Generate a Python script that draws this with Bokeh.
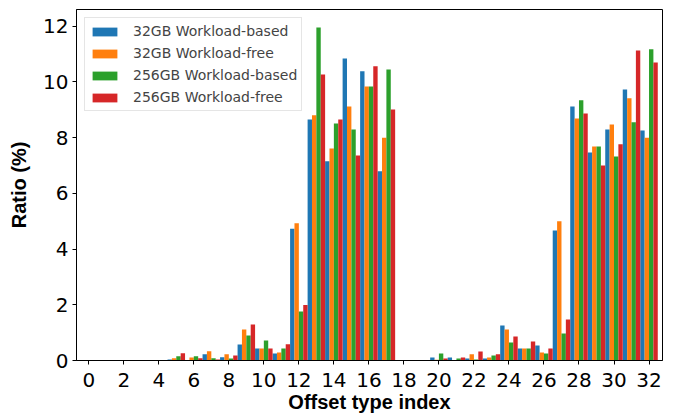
from bokeh.plotting import figure
from bokeh.models import Range1d, FixedTicker, Legend, LegendItem, ColumnDataSource
from bokeh.embed import file_html
from bokeh.resources import INLINE

indices = list(range(33))
tick_labels = [str(i) for i in range(0, 33, 2)]

series_names = ["32GB Workload-based", "32GB Workload-free",
                "256GB Workload-based", "256GB Workload-free"]

gb32_based = [0, 0, 0, 0, 0, 0.04, 0.0, 0.22, 0.12, 0.57, 0.43, 0.25, 4.73, 8.65, 7.15, 10.84,
              10.38, 6.79, 0, 0, 0.11, 0.11, 0.07, 0.07, 1.26, 0.43, 0.54, 4.67, 9.12, 7.47,
              8.29, 9.73, 8.26]
gb32_free = [0, 0, 0, 0, 0, 0.08, 0.11, 0.33, 0.22, 1.11, 0.43, 0.29, 4.93, 8.80, 7.61, 9.12,
             9.84, 8.00, 0, 0, 0.03, 0.01, 0.22, 0.11, 1.11, 0.43, 0.29, 5.00, 8.69, 7.68,
             8.47, 9.41, 8.00]
gb256_based = [0, 0, 0, 0, 0, 0.15, 0.15, 0.08, 0.07, 0.90, 0.72, 0.43, 1.76, 11.95, 8.51, 8.29,
               9.84, 10.45, 0, 0, 0.25, 0.07, 0.04, 0.18, 0.65, 0.43, 0.25, 0.97, 9.34, 7.68,
               7.32, 8.55, 11.17]
gb256_free = [0, 0, 0, 0, 0, 0.26, 0.08, 0.04, 0.18, 1.29, 0.43, 0.58, 1.99, 10.27, 8.65, 7.36,
              10.56, 9.01, 0, 0, 0.07, 0.11, 0.32, 0.22, 0.86, 0.68, 0.43, 1.47, 8.87, 7.00,
              7.76, 11.13, 10.70]

colors = ["#1f77b4", "#ff7f0e", "#2ca02c", "#d62728"]
all_series = [gb32_based, gb32_free, gb256_based, gb256_free]
bar_w = 0.25
offsets = [-0.375, -0.125, 0.125, 0.375]

p = figure(width=677, height=415, x_range=Range1d(-0.7, 32.77), y_range=Range1d(0, 12.6),
           output_backend="svg", toolbar_location=None,
           min_border_left=76, min_border_right=15, min_border_top=9, min_border_bottom=55)

items = []
for name, vals, col, off in zip(series_names, all_series, colors, offsets):
    src = ColumnDataSource(dict(x=[i + off for i in indices], top=vals))
    r = p.vbar(x="x", top="top", width=bar_w, bottom=0, source=src,
               fill_color=col, line_color=None)
    items.append(LegendItem(label=name, renderers=[r]))

p.xgrid.visible = False
p.ygrid.visible = False
p.outline_line_color = "black"
p.outline_line_width = 1
p.background_fill_color = "white"
p.border_fill_color = "white"

p.xaxis.ticker = FixedTicker(ticks=[int(t) for t in tick_labels])
p.yaxis.ticker = FixedTicker(ticks=[0, 2, 4, 6, 8, 10, 12])
for ax in (p.xaxis[0], p.yaxis[0]):
    ax.major_label_text_font = "DejaVu Sans"
    ax.major_label_text_font_size = "20px"
    ax.major_label_text_color = "black"
    ax.axis_label_text_font = "Liberation Sans"
    ax.axis_label_text_font_size = "20px"
    ax.axis_label_text_font_style = "bold"
    ax.axis_label_text_color = "black"
    ax.major_tick_in = 0
    ax.major_tick_out = 4
    ax.minor_tick_in = 0
    ax.minor_tick_out = 0
    ax.axis_line_color = "black"
    ax.major_tick_line_color = "black"

p.xaxis.axis_label = "Offset type index"
p.yaxis.axis_label = "Ratio (%)"
p.xaxis.major_label_standoff = 8
p.xaxis.axis_label_standoff = 1
p.yaxis.major_label_standoff = 4
p.yaxis.axis_label_standoff = 10

legend = Legend(items=items, location="top_left", margin=8, padding=4, spacing=4,
                label_height=18, glyph_height=11, glyph_width=31, label_standoff=13,
                label_text_font="DejaVu Sans", label_text_font_size="14px",
                border_line_color="#cccccc", border_line_width=1,
                background_fill_color="white", background_fill_alpha=0.8)
p.add_layout(legend)

open("out.html", "w").write(file_html(p, INLINE))
